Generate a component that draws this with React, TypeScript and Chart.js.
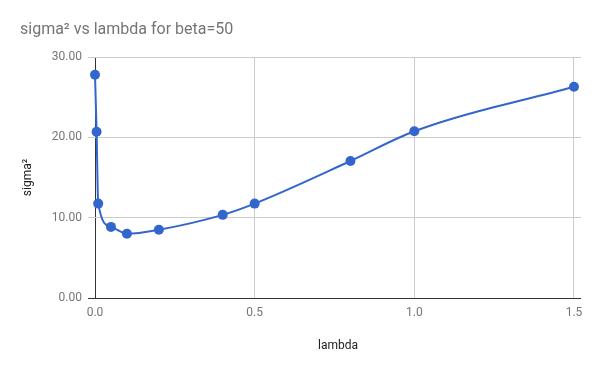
import React, { useEffect, useRef } from "react";
import { Chart, registerables } from "chart.js";

Chart.register(...registerables);

const lambdaValues = [0, 0.005, 0.01, 0.05, 0.1, 0.2, 0.4, 0.5, 0.8, 1.0, 1.5];
const sigmaValues = [27.8, 20.7, 11.75, 8.85, 8.0, 8.5, 10.35, 11.75, 17.05, 20.75, 26.3];
const xTicks = [0, 0.5, 1.0, 1.5];
const yTicks = [0, 10, 20, 30];
const chartTitle = "sigma² vs lambda for beta=50";
const xAxisTitle = "lambda";
const yAxisTitle = "sigma²";

const FONT = "Roboto, 'Noto Sans', sans-serif";

const titlePlugin = {
  id: "leftTitle",
  afterDraw(chart: any) {
    const ctx = chart.ctx;
    ctx.save();
    ctx.font = `16px ${FONT}`;
    ctx.fillStyle = "#757575";
    ctx.textAlign = "left";
    ctx.textBaseline = "middle";
    ctx.fillText(chartTitle, 20, 30);
    ctx.restore();
  },
};

export default function App() {
  const ref = useRef<HTMLCanvasElement | null>(null);
  useEffect(() => {
    if (!ref.current) return;
    const chart = new Chart(ref.current, {
      type: "line",
      data: {
        datasets: [
          {
            data: lambdaValues.map((x, i) => ({ x, y: sigmaValues[i] })),
            borderColor: "#3366cc",
            backgroundColor: "#3366cc",
            borderWidth: 2,
            pointRadius: 5,
            pointBorderWidth: 0,
            pointBackgroundColor: "#3366cc",
            cubicInterpolationMode: "monotone",
            fill: false,
            clip: false as any,
          },
        ],
      },
      options: {
        animation: false,
        responsive: false,
        maintainAspectRatio: false,
        layout: { padding: { top: 57, right: 19, left: 0, bottom: 0 } },
        plugins: {
          legend: { display: false },
          tooltip: { enabled: false },
          title: { display: false },
        },
        scales: {
          x: {
            type: "linear",
            min: 0,
            max: 1.522,
            afterFit(scale: any) {
              scale.height = 73;
            },
            afterBuildTicks(scale: any) {
              scale.ticks = xTicks.map((v) => ({ value: v }));
            },
            ticks: {
              padding: 8,
              color: "#757575",
              font: { family: FONT, size: 12 },
              maxRotation: 0,
              autoSkip: false,
              callback: (v: any) => Number(v).toFixed(1),
            },
            grid: {
              drawTicks: false,
              color: (c: any) => (c.tick && c.tick.value === 0 ? "#333333" : "#cccccc"),
              lineWidth: 1,
            },
            border: { display: false },
            title: {
              display: true,
              text: xAxisTitle,
              color: "#222222",
              font: { family: FONT, size: 12 },
              padding: { top: 0, bottom: 18 },
            },
          },
          y: {
            type: "linear",
            min: 0,
            max: 30,
            afterFit(scale: any) {
              scale.width = 95;
            },
            afterBuildTicks(scale: any) {
              scale.ticks = yTicks.map((v) => ({ value: v }));
            },
            ticks: {
              padding: 6,
              color: "#757575",
              font: { family: FONT, size: 12 },
              callback: (v: any) => Number(v).toFixed(2),
            },
            grid: {
              drawTicks: true,
              tickLength: 7,
              color: (c: any) => (c.tick && c.tick.value === 0 ? "#333333" : "#cccccc"),
              lineWidth: 1,
            },
            border: { display: false },
            title: {
              display: true,
              text: yAxisTitle,
              color: "#222222",
              font: { family: FONT, size: 12 },
              padding: { top: 21, bottom: 0 },
            },
          },
        },
      } as any,
      plugins: [titlePlugin],
    });
    return () => chart.destroy();
  }, []);
  return (
    <div style={{ position: "fixed", left: 0, top: 0, width: 600, height: 371, background: "#fff" }}>
      <canvas ref={ref} width={600} height={371} style={{ width: 600, height: 371 }} />
    </div>
  );
}
